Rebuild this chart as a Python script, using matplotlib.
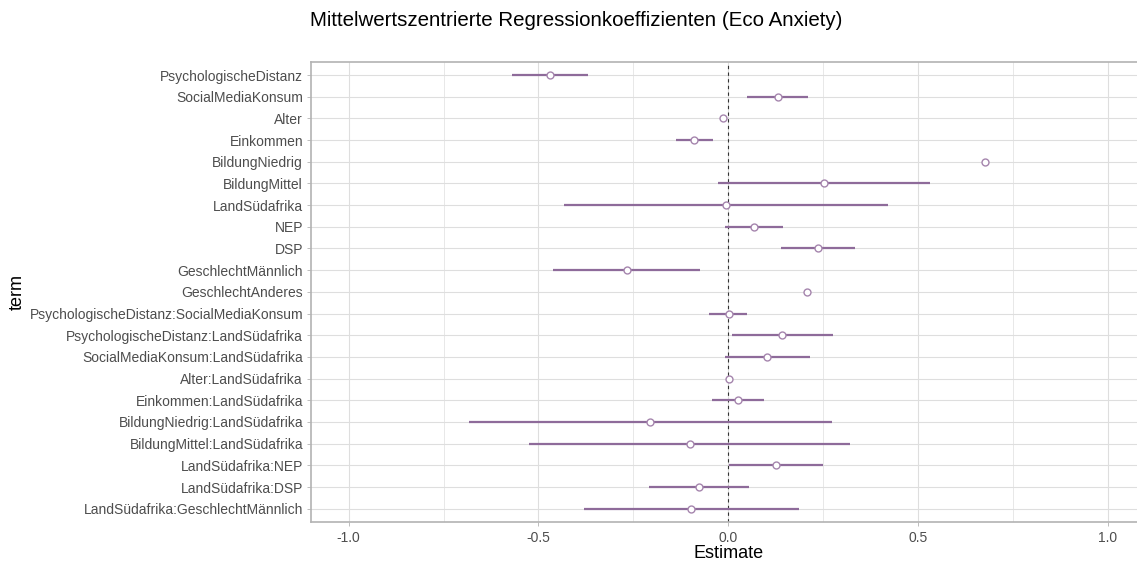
import numpy as np
import matplotlib.pyplot as plt

plt.rcParams['font.family'] = ['Liberation Sans', 'DejaVu Sans']

terms = [
    "PsychologischeDistanz", "SocialMediaKonsum", "Alter", "Einkommen",
    "BildungNiedrig", "BildungMittel", "LandSüdafrika", "NEP", "DSP",
    "GeschlechtMännlich", "GeschlechtAnderes",
    "PsychologischeDistanz:SocialMediaKonsum",
    "PsychologischeDistanz:LandSüdafrika",
    "SocialMediaKonsum:LandSüdafrika", "Alter:LandSüdafrika",
    "Einkommen:LandSüdafrika", "BildungNiedrig:LandSüdafrika",
    "BildungMittel:LandSüdafrika", "LandSüdafrika:NEP", "LandSüdafrika:DSP",
    "LandSüdafrika:GeschlechtMännlich",
]
estimate = [-0.470, 0.130, -0.014, -0.090, 0.675, 0.253, -0.005, 0.068, 0.237,
            -0.267, 0.207, 0.001, 0.142, 0.103, 0.003, 0.026, -0.205, -0.101,
            0.126, -0.077, -0.097]
conf_low = [-0.571, 0.048, -0.020, -0.138, np.nan, -0.026, -0.432, -0.009, 0.138,
            -0.461, np.nan, -0.050, 0.009, -0.010, -0.006, -0.043, -0.682, -0.524,
            0.003, -0.209, -0.381]
conf_high = [-0.370, 0.210, -0.008, -0.040, np.nan, 0.530, 0.420, 0.143, 0.334,
             -0.075, np.nan, 0.050, 0.276, 0.214, 0.013, 0.093, 0.273, 0.321,
             0.249, 0.055, 0.186]

line_col = "#8e6b9a"
grid_col = "#dedede"
border_col = "#b3b3b3"

fig = plt.figure(figsize=(11.37, 5.62), dpi=100)
ax = fig.add_axes([310.7 / 1137, 1 - 521.7 / 562, 835.2 / 1137, (521.7 - 62) / 562])

y = np.arange(len(terms))
ax.hlines(y, conf_low, conf_high, color=line_col, linewidth=1.6, zorder=3)
ax.plot(estimate, y, "o", markersize=5.0, markerfacecolor="white",
        markeredgecolor="#a585ad", markeredgewidth=1.0, zorder=4)
ax.axvline(0, color="#333333", linestyle=(0, (3, 3)), linewidth=0.8, zorder=2)

ax.set_xlim(-1.1, 1.1)
ax.set_ylim(len(terms) - 0.4, -0.6)
ax.set_yticks(y)
ax.set_yticklabels(terms)
ax.set_xticks([-1.0, -0.5, 0.0, 0.5, 1.0])
ax.set_xticklabels(["-1.0", "-0.5", "0.0", "0.5", "1.0"])
ax.set_xticks([-0.75, -0.25, 0.25, 0.75], minor=True)

ax.grid(True, which="major", color=grid_col, linewidth=0.8, zorder=0)
ax.grid(True, which="minor", axis="x", color=grid_col, linewidth=0.5, zorder=0)
ax.set_axisbelow(True)

for s in ax.spines.values():
    s.set_color(border_col)
    s.set_linewidth(1.2)

ax.tick_params(axis="both", which="major", colors=border_col, labelcolor="#4d4d4d",
               labelsize=10, length=3, width=0.6)
ax.tick_params(axis="y", pad=2.5)
ax.tick_params(axis="x", which="minor", length=0)

ax.set_xlabel("Estimate", fontsize=13, color="black", labelpad=0)
ax.set_ylabel("term", fontsize=13, color="black", labelpad=3)
fig.text(310 / 1137, 1 - 21 / 562,
         "Mittelwertszentrierte Regressionkoeffizienten (Eco Anxiety)",
         fontsize=14.8, ha="left", va="center")

fig.savefig("out.png", dpi=100)
